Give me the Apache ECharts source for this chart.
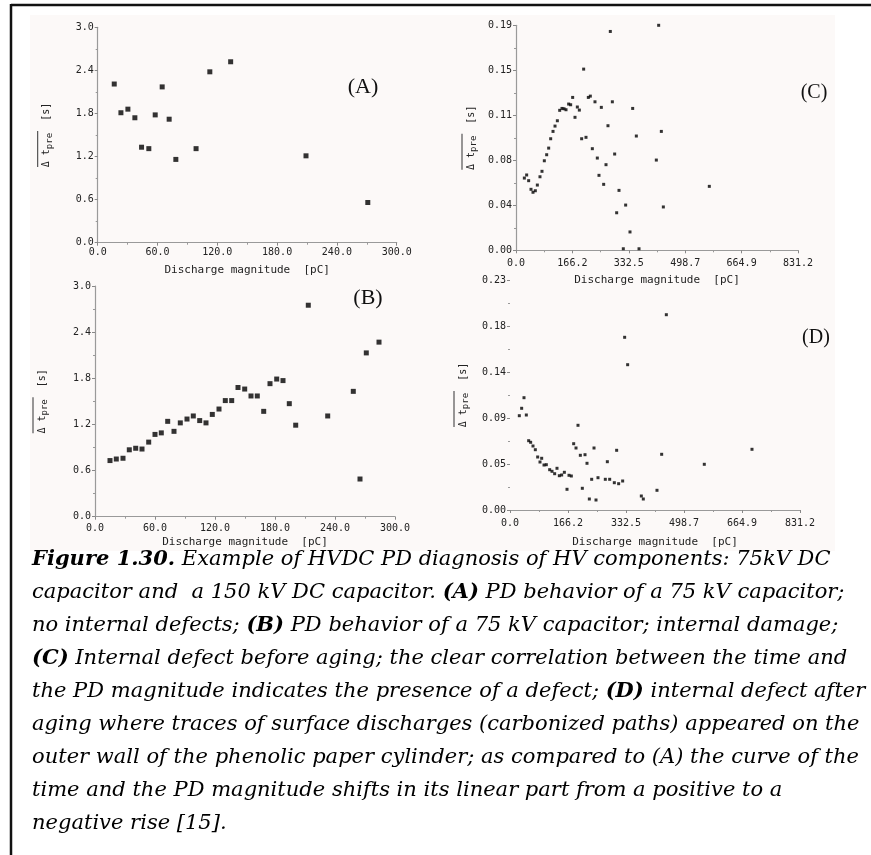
<!DOCTYPE html>
<html><head><meta charset="utf-8">
<script src="https://cdn.jsdelivr.net/npm/echarts/dist/echarts.min.js"></script>
<style>html,body{margin:0;padding:0;background:#fff;}#c{width:871px;height:855px;}</style>
</head><body><div id="c"></div>
<script>
// ---------- DATA ----------
const aX = [16.6, 23.3, 30.3, 37.3, 44.0, 51.3, 57.7, 64.7, 71.7, 78.4, 98.7, 112.5, 133.4, 209.0, 271.0];
const aY = [2.21, 1.81, 1.86, 1.74, 1.33, 1.31, 1.78, 2.17, 1.72, 1.16, 1.31, 2.38, 2.52, 1.21, 0.56];

const bX = [15.0, 21.3, 28.0, 34.3, 40.7, 47.0, 53.7, 60.0, 66.3, 72.7, 79.0, 85.3, 92.0, 98.3, 104.7, 111.0, 117.3, 124.0, 130.3, 136.7, 143.0, 149.7, 156.0, 162.3, 168.7, 175.0, 181.7, 188.0, 194.3, 200.7, 213.3, 232.7, 258.3, 265.0, 271.3, 284.0];
const bY = [0.73, 0.75, 0.76, 0.87, 0.89, 0.88, 0.97, 1.07, 1.09, 1.24, 1.11, 1.22, 1.27, 1.31, 1.25, 1.22, 1.33, 1.40, 1.51, 1.51, 1.68, 1.66, 1.57, 1.57, 1.37, 1.73, 1.79, 1.77, 1.47, 1.19, 2.75, 1.31, 1.63, 0.49, 2.13, 2.27];

const cX = [24.6, 31.4, 37.3, 44.2, 50.1, 57.0, 62.9, 70.7, 76.6, 83.5, 90.4, 96.3, 102.2, 109.1, 115.0, 121.9, 128.8, 135.6, 141.5, 147.4, 155.2, 161.1, 167.0, 173.9, 180.8, 186.7, 193.5, 199.4, 206.3, 213.2, 219.1, 225.0, 232.8, 239.7, 244.6, 251.5, 258.4, 265.3, 271.1, 278.0, 284.0, 290.8, 296.7, 303.6, 316.3, 323.2, 336.0, 343.9, 354.7, 362.6, 413.6, 420.5, 428.4, 434.3, 569.8];
const cY = [0.061, 0.0636, 0.0588, 0.0515, 0.049, 0.0503, 0.0551, 0.0621, 0.0667, 0.0756, 0.0807, 0.0863, 0.0942, 0.1004, 0.1049, 0.1094, 0.1182, 0.1198, 0.1195, 0.1187, 0.1235, 0.1229, 0.1291, 0.1123, 0.121, 0.1184, 0.0942, 0.153, 0.0954, 0.1291, 0.1302, 0.0858, 0.1254, 0.0779, 0.0633, 0.1207, 0.0557, 0.0723, 0.1052, 0.1848, 0.1254, 0.0813, 0.0317, 0.0506, 0.0013, 0.0382, 0.0155, 0.1198, 0.0965, 0.0013, 0.0762, 0.19, 0.1004, 0.0366, 0.054];

const dX = [26.7, 33.4, 40.1, 46.8, 53.5, 59.2, 65.9, 72.6, 79.3, 86.0, 90.8, 97.5, 104.1, 113.7, 120.4, 128.0, 134.7, 141.4, 148.1, 155.8, 163.4, 169.1, 175.8, 182.5, 189.2, 194.9, 201.6, 207.3, 215.0, 220.7, 227.4, 234.1, 240.8, 246.5, 252.2, 273.2, 279.0, 285.7, 299.0, 305.7, 311.4, 322.9, 328.6, 337.2, 376.4, 382.1, 421.3, 434.7, 448.1, 556.9, 693.6];
const dY = [0.0943, 0.1017, 0.1123, 0.095, 0.0693, 0.0677, 0.064, 0.0603, 0.053, 0.048, 0.0517, 0.045, 0.0453, 0.0403, 0.0387, 0.0363, 0.0417, 0.0343, 0.035, 0.0377, 0.0207, 0.0347, 0.034, 0.0663, 0.062, 0.0847, 0.0547, 0.0217, 0.0553, 0.0467, 0.011, 0.0307, 0.062, 0.010, 0.0323, 0.0307, 0.0483, 0.0307, 0.0273, 0.0597, 0.0263, 0.029, 0.1727, 0.1453, 0.014, 0.011, 0.0197, 0.0557, 0.1953, 0.0457, 0.0607];

const abXTicks = ['0.0', '60.0', '120.0', '180.0', '240.0', '300.0'];
const abYTicks = ['0.0', '0.6', '1.2', '1.8', '2.4', '3.0'];
const cdXTicks = ['0.0', '166.2', '332.5', '498.7', '664.9', '831.2'];
const cYTicks = ['0.00', '0.04', '0.08', '0.11', '0.15', '0.19'];
const dYTicks = ['0.00', '0.05', '0.09', '0.14', '0.18', '0.23'];

const xName = 'Discharge magnitude  [pC]';
const panelNames = ['(A)', '(B)', '(C)', '(D)'];
const captionLines = [
  [['b', 'Figure 1.30.'], ['i', ' Example of HVDC PD diagnosis of HV components: 75kV DC']],
  [['i', 'capacitor and  a 150 kV DC capacitor. '], ['b', '(A)'], ['i', ' PD behavior of a 75 kV capacitor;']],
  [['i', 'no internal defects; '], ['b', '(B)'], ['i', ' PD behavior of a 75 kV capacitor; internal damage;']],
  [['b', '(C)'], ['i', ' Internal defect before aging; the clear correlation between the time and']],
  [['i', 'the PD magnitude indicates the presence of a defect; '], ['b', '(D)'], ['i', ' internal defect after']],
  [['i', 'aging where traces of surface discharges (carbonized paths) appeared on the']],
  [['i', 'outer wall of the phenolic paper cylinder; as compared to (A) the curve of the']],
  [['i', 'time and the PD magnitude shifts in its linear part from a positive to a']],
  [['i', 'negative rise [15].']]
];
// approximate printed width of each caption line in the reference (px)
const captionWidths = [815, 830, 811, 801, 816, 798, 808, 755, 365];

// ---------- STYLE / LAYOUT ----------
const MONO = '"DejaVu Sans Mono", "Liberation Mono", monospace';
const SERIF = '"DejaVu Serif", serif';
const chart = echarts.init(document.getElementById('c'), null, {renderer: 'canvas'});

const pairs = (xs, ys) => xs.map((x, i) => [x, ys[i]]);

function xAxis(gi, max, labels, nameGap, margin) {
  const interval = max / 5;
  return {
    type: 'value', gridIndex: gi, min: 0, max: max, interval: interval,
    name: xName, nameLocation: 'middle', nameGap: nameGap,
    nameTextStyle: {fontFamily: MONO, fontSize: 11, color: '#222'},
    axisLine: {show: true, onZero: false, lineStyle: {color: '#9a9a9a', width: 1.2}},
    axisTick: {show: true, length: 3, lineStyle: {color: '#888'}},
    minorTick: {show: true, splitNumber: 2, length: 2, lineStyle: {color: '#999'}},
    axisLabel: {margin: margin, fontFamily: MONO, fontSize: 10, color: '#222',
      formatter: v => labels[Math.round(v / interval)]},
    splitLine: {show: false}, minorSplitLine: {show: false}
  };
}
const yNameRich = {
  bar: {width: 36, height: 1, lineHeight: 4, backgroundColor: '#333'},
  gap: {width: 28, height: 1, lineHeight: 4},
  t: {fontFamily: MONO, fontSize: 10, color: '#222', lineHeight: 14},
  s: {fontFamily: MONO, fontSize: 9, color: '#222', lineHeight: 14, padding: [5, 0, 0, 0]}
};
function yAxis(gi, max, labels, nameGap, showLine) {
  const interval = max / 5;
  return {
    type: 'value', gridIndex: gi, min: 0, max: max, interval: interval,
    name: '{bar|}{gap|}\n{t|Δ t}{s|pre}{t|  [s]}', nameLocation: 'middle', nameGap: nameGap,
    nameTextStyle: {rich: yNameRich},
    axisLine: {show: showLine, onZero: false, lineStyle: {color: '#9a9a9a', width: 1.2}},
    axisTick: {show: true, length: 3, lineStyle: {color: '#888'}},
    minorTick: {show: true, splitNumber: 2, length: 2, lineStyle: {color: '#999'}},
    axisLabel: {margin: 4, fontFamily: MONO, fontSize: 10, color: '#222',
      formatter: v => labels[Math.round(v / interval)]},
    splitLine: {show: false}, minorSplitLine: {show: false}
  };
}
function scatter(gi, xs, ys, size) {
  return {type: 'scatter', xAxisIndex: gi, yAxisIndex: gi, symbol: 'rect', symbolSize: size,
    itemStyle: {color: '#000'}, data: pairs(xs, ys), silent: true};
}

// caption: font size fitted to the reference line widths, never overflowing the page
const CAP_LEFT = 32;
const ctx = document.createElement('canvas').getContext('2d');
function lineWidth(line, fs) {
  let w = 0;
  line.forEach(([k, s]) => {
    ctx.font = (k === 'b' ? 'italic bold ' : 'italic ') + fs + 'px ' + SERIF;
    w += ctx.measureText(s).width;
  });
  return w;
}
const measured = captionLines.map(l => lineWidth(l, 20));
const sumT = captionWidths.reduce((a, b) => a + b, 0);
const sumM = measured.reduce((a, b) => a + b, 0);
let capFs = 20 * sumT / sumM;
measured.forEach(m => { capFs = Math.min(capFs, 20 * (871 - 5 - CAP_LEFT) / m); });
const capText = captionLines.map(l => l.map(([k, s]) => '{' + k + '|' + s + '}').join('')).join('\n');

chart.setOption({
  animation: false,
  backgroundColor: '#ffffff',
  grid: [
    {left: 97.7, top: 27.3, width: 299, height: 215.4, outerBoundsMode: 'none'},
    {left: 95, top: 286, width: 300, height: 230.7, outerBoundsMode: 'none'},
    {left: 516, top: 25.3, width: 282, height: 225, outerBoundsMode: 'none'},
    {left: 510, top: 280, width: 290, height: 230, outerBoundsMode: 'none'}
  ],
  xAxis: [
    xAxis(0, 300, abXTicks, 22, 5),
    xAxis(1, 300, abXTicks, 20, 7),
    xAxis(2, 831.2, cdXTicks, 24, 8),
    xAxis(3, 831.2, cdXTicks, 27, 8)
  ],
  yAxis: [
    yAxis(0, 3.0, abYTicks, 44, true),
    yAxis(1, 3.0, abYTicks, 46, true),
    yAxis(2, 0.19, cYTicks, 38, true),
    yAxis(3, 0.23, dYTicks, 40, false)
  ],
  series: [
    scatter(0, aX, aY, 5),
    scatter(1, bX, bY, 5),
    scatter(2, cX, cY, 3),
    scatter(3, dX, dY, 3)
  ],
  graphic: [
    {type: 'rect', z: -10, shape: {x: 30, y: 15, width: 805, height: 536}, style: {fill: '#fcf9f8'}},
    {type: 'line', shape: {x1: 11, y1: 5, x2: 871, y2: 5}, style: {stroke: '#111', lineWidth: 2.5}},
    {type: 'line', shape: {x1: 11, y1: 4, x2: 11, y2: 855}, style: {stroke: '#111', lineWidth: 2.5}},
    {type: 'text', x: 363, y: 87, style: {text: panelNames[0], font: '22px "Liberation Serif", serif', fill: '#111', align: 'center', verticalAlign: 'middle'}},
    {type: 'text', x: 368, y: 298, style: {text: panelNames[1], font: '22px "Liberation Serif", serif', fill: '#111', align: 'center', verticalAlign: 'middle'}},
    {type: 'text', x: 814, y: 93, style: {text: panelNames[2], font: '20px "Liberation Serif", serif', fill: '#111', align: 'center', verticalAlign: 'middle'}},
    {type: 'text', x: 816, y: 338, style: {text: panelNames[3], font: '20px "Liberation Serif", serif', fill: '#111', align: 'center', verticalAlign: 'middle'}},
    {type: 'text', x: CAP_LEFT, y: 543, style: {
      text: capText, fill: '#000',
      rich: {
        b: {fontFamily: SERIF, fontStyle: 'italic', fontWeight: 'bold', fontSize: capFs, lineHeight: 33, fill: '#000'},
        i: {fontFamily: SERIF, fontStyle: 'italic', fontSize: capFs, lineHeight: 33, fill: '#000'}
      }
    }}
  ]
});
</script></body></html>
